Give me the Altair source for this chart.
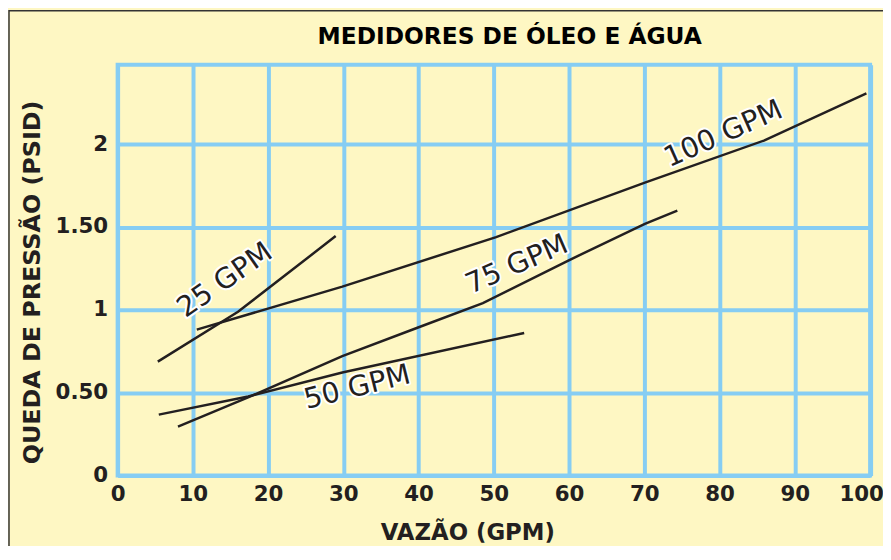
import altair as alt
import pandas as pd

# ---- data ----
x_25 = [5.34, 16.0, 28.98]
y_25 = [0.687, 0.988, 1.445]

x_50 = [5.47, 17.34, 29.86, 54.03]
y_50 = [0.367, 0.477, 0.621, 0.860]

x_75 = [8.02, 17.34, 29.86, 39.75, 48.54, 59.96, 70.07, 74.38]
y_75 = [0.295, 0.471, 0.720, 0.890, 1.040, 1.299, 1.519, 1.599]

x_100 = [10.52, 29.86, 50.30, 70.07, 85.89, 99.51]
y_100 = [0.880, 1.140, 1.439, 1.768, 2.022, 2.307]

series_names = ["25 GPM", "50 GPM", "75 GPM", "100 GPM"]

x_ticks = [0, 10, 20, 30, 40, 50, 60, 70, 80, 90, 100]
y_ticks = [0, 0.5, 1, 1.5, 2]
y_tick_labels = ["0", "0.50", "1", "1.50", "2"]

# curve label annotations
label_text = ["25 GPM", "50 GPM", "75 GPM", "100 GPM"]
label_x = [14.24, 31.84, 53.04, 80.49]
label_y = [1.18, 0.533, 1.275, 2.063]
label_angle = [325, 346, 336.5, 336]

title_text = "MEDIDORES DE ÓLEO E ÁGUA"
x_title = "VAZÃO (GPM)"
y_title = "QUEDA DE PRESSÃO (PSID)"

# ---- build tables ----
rows = []
for name, xs, ys in zip(series_names, [x_25, x_50, x_75, x_100], [y_25, y_50, y_75, y_100]):
    for i, (a, b) in enumerate(zip(xs, ys)):
        rows.append({"serie": name, "x": a, "y": b, "ordem": i})
lines_df = pd.DataFrame(rows)
labels_df = pd.DataFrame({"text": label_text, "x": label_x, "y": label_y, "angle": label_angle})

INK = "#231F20"
GRID = "#86CDF3"
BG = "#FEF7C3"

label_expr = "{" + ",".join(f"'{v}':'{t}'" for v, t in zip(y_ticks, y_tick_labels)) + "}[datum.value]"

x_scale = alt.Scale(domain=[0, 100], nice=False, zero=False)
y_scale = alt.Scale(domain=[0, 2.48], nice=False)

x_axis = alt.Axis(
    values=x_ticks, title=x_title, grid=True, gridColor=GRID, gridWidth=4, gridOpacity=1,
    domain=False, ticks=False, labelFont="DejaVu Sans", labelFontSize=21.5, labelFontWeight="bold",
    labelColor=INK, labelPadding=8, labelFlush=False, labelOverlap=False,
    labelOffset={"condition": {"test": "datum.value == 100", "value": -9}, "value": 0},
    titleFont="DejaVu Sans", titleFontSize=23, titleFontWeight="bold", titleColor=INK,
    titleX=352.5, titleY=65, titleAlign="center", titleBaseline="alphabetic",
)
y_axis = alt.Axis(
    values=y_ticks, title=y_title, grid=True, gridColor=GRID, gridWidth=4, gridOpacity=1,
    domain=False, ticks=False, labelFont="DejaVu Sans", labelFontSize=21.5, labelFontWeight="bold",
    labelColor=INK, labelPadding=10, labelExpr=label_expr, labelOverlap=False, labelFlush=False,
    titleFont="DejaVu Sans", titleFontSize=24, titleFontWeight="bold", titleColor=INK,
    titleAngle=270, titleX=-78.5, titleY=219, titleAlign="center", titleBaseline="alphabetic",
)

lines = alt.Chart(lines_df).mark_line(color=INK, strokeWidth=2.5).encode(
    x=alt.X("x:Q", scale=x_scale, axis=x_axis),
    y=alt.Y("y:Q", scale=y_scale, axis=y_axis),
    detail="serie:N",
    order="ordem:Q",
)

halo = alt.Chart(labels_df).mark_text(
    font="DejaVu Sans", fontSize=28.5, stroke="white", strokeWidth=4, strokeJoin="round",
    fill="white", align="center", baseline="middle",
).encode(x=alt.X("x:Q", scale=x_scale), y=alt.Y("y:Q", scale=y_scale),
         text="text:N", angle=alt.Angle("angle:Q", scale=None))

texts = alt.Chart(labels_df).mark_text(
    font="DejaVu Sans", fontSize=28.5, color=INK, align="center", baseline="middle",
).encode(x=alt.X("x:Q", scale=x_scale), y=alt.Y("y:Q", scale=y_scale),
         text="text:N", angle=alt.Angle("angle:Q", scale=None))

frame = alt.Chart(pd.DataFrame({"a": [0]})).mark_rect(
    fillOpacity=0, stroke="#333333", strokeWidth=1.5
).encode(x=alt.value(-109.5), x2=alt.value(900), y=alt.value(-54.5), y2=alt.value(600))

chart = alt.layer(lines, halo, texts, frame).properties(
    width=758.5, height=414,
    title=alt.TitleParams(
        text=title_text, font="DejaVu Sans", fontSize=23.5, fontWeight="bold", color="#000000",
        anchor="middle", dx=16, offset=20, dy=77.5, baseline="alphabetic",
    ),
    autosize="none",
    padding={"left": 110.5, "top": 55, "right": 13, "bottom": 69},
    background=BG,
).configure_view(stroke=GRID, strokeWidth=4, fill=BG)

chart.save("out.html", embed_options={"renderer": "svg", "actions": False})
